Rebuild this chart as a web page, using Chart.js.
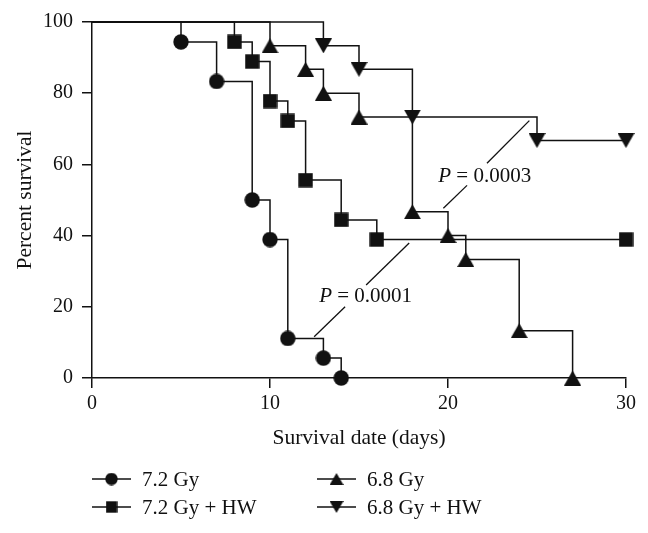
<!DOCTYPE html>
<html>
<head>
<meta charset="utf-8">
<script src="https://cdn.jsdelivr.net/npm/chart.js"></script>
<style>
  html, body { margin: 0; padding: 0; background: #fff; }
  canvas { display: block; }
</style>
</head>
<body>
<canvas id="survival" width="648" height="533"></canvas>
<script>
// -----------------------------
// Data (days, percent survival)
// -----------------------------
const seriesNames = ["7.2 Gy", "7.2 Gy + HW", "6.8 Gy", "6.8 Gy + HW"];

const days72 = [0, 5, 7, 9, 10, 11, 13, 14];
const surv72 = [100, 94.4, 83.3, 50, 38.9, 11.1, 5.6, 0];

const days72hw = [0, 8, 9, 10, 11, 12, 14, 16, 30];
const surv72hw = [100, 94.4, 88.9, 77.8, 72.2, 55.6, 44.4, 38.9, 38.9];

const days68 = [0, 10, 12, 13, 15, 18, 20, 21, 24, 27];
const surv68 = [100, 93.3, 86.7, 80, 73.3, 46.7, 40, 33.3, 13.3, 0];

const days68hw = [0, 13, 15, 18, 25, 30];
const surv68hw = [100, 93.3, 86.7, 73.3, 66.7, 66.7];

const xTicks = [0, 10, 20, 30];
const yTicks = [0, 20, 40, 60, 80, 100];

// P value notes: text anchor + two leader lines, in data units
const pLabels = ["0.0001", "0.0003"];
const pTextPos = [[12.76, 22.8], [19.45, 56.7]];
const pLines = [
    [[12.48, 11.6, 14.22, 20.0], [15.40, 26.1, 17.82, 37.9]],
    [[21.07, 54.1, 19.74, 47.7], [22.19, 60.3, 24.57, 72.3]]
];

const INK = "#111";
const FONT = "'Liberation Serif', 'Times New Roman', serif";

// -----------------------------
// Marker bitmaps
// -----------------------------
function makeMarker(kind, scale) {
    const s = scale || 1;
    const w = Math.round((kind === "circle" ? 16 : kind === "square" ? 15 : 17) * s);
    const h = Math.round((kind === "circle" ? 16 : 15) * s);
    const c = document.createElement("canvas");
    c.width = w;
    c.height = h;
    const g = c.getContext("2d");
    g.fillStyle = INK;
    g.beginPath();
    if (kind === "circle") {
        g.arc(w / 2, h / 2, w / 2 - 0.3, 0, Math.PI * 2);
    } else if (kind === "square") {
        g.rect(0.3, 0.3, w - 0.6, h - 0.6);
    } else if (kind === "up") {
        g.moveTo(w / 2, 0);
        g.lineTo(w, h);
        g.lineTo(0, h);
    } else {
        g.moveTo(0, 0);
        g.lineTo(w, 0);
        g.lineTo(w / 2, h);
    }
    g.closePath();
    g.fill();
    return c;
}

const markerKinds = ["circle", "square", "up", "down"];
const markers = markerKinds.map(k => makeMarker(k, 1));
const legendMarkers = markerKinds.map(k => makeMarker(k, 0.8));

function toPoints(xs, ys) {
    return xs.map((x, i) => ({ x: x, y: ys[i] }));
}

const allDays = [days72, days72hw, days68, days68hw];
const allSurv = [surv72, surv72hw, surv68, surv68hw];

const datasets = seriesNames.map((name, i) => ({
    label: name,
    data: toPoints(allDays[i], allSurv[i]),
    stepped: true,
    borderColor: INK,
    borderWidth: 1.5,
    fill: false,
    pointStyle: markers[i],
    pointRadius: ctx => (ctx.dataIndex === 0 ? 0 : 7),
    pointHoverRadius: ctx => (ctx.dataIndex === 0 ? 0 : 7),
    clip: false
}));

// -----------------------------
// Legend + P value notes
// -----------------------------
const extrasPlugin = {
    id: "extras",
    afterDraw(chart) {
        const ctx = chart.ctx;
        const xs = chart.scales.x;
        const ys = chart.scales.y;
        ctx.save();
        ctx.strokeStyle = INK;
        ctx.fillStyle = INK;
        ctx.lineWidth = 1.3;

        // P values
        pLabels.forEach((p, i) => {
            pLines[i].forEach(seg => {
                ctx.beginPath();
                ctx.moveTo(xs.getPixelForValue(seg[0]), ys.getPixelForValue(seg[1]));
                ctx.lineTo(xs.getPixelForValue(seg[2]), ys.getPixelForValue(seg[3]));
                ctx.stroke();
            });
            const tx = xs.getPixelForValue(pTextPos[i][0]);
            const ty = ys.getPixelForValue(pTextPos[i][1]);
            ctx.textBaseline = "middle";
            ctx.textAlign = "left";
            ctx.font = "italic 21px " + FONT;
            ctx.fillText("P", tx, ty);
            const pw = ctx.measureText("P").width;
            ctx.font = "21px " + FONT;
            ctx.fillText(" = " + p, tx + pw, ty);
        });

        // legend, two columns
        const colX = [92, 317];
        const rowY = [479, 507];
        ctx.lineWidth = 1.5;
        seriesNames.forEach((name, i) => {
            const x0 = colX[Math.floor(i / 2)];
            const y0 = rowY[i % 2];
            ctx.beginPath();
            ctx.moveTo(x0, y0);
            ctx.lineTo(x0 + 39, y0);
            ctx.stroke();
            const m = legendMarkers[i];
            ctx.drawImage(m, x0 + 19.5 - m.width / 2, y0 - m.height / 2);
            ctx.font = "21px " + FONT;
            ctx.textBaseline = "middle";
            ctx.fillText(name, x0 + 50, y0 + 1);
        });
        ctx.restore();
    }
};

new Chart(document.getElementById("survival"), {
    type: "line",
    data: { datasets: datasets },
    plugins: [extrasPlugin],
    options: {
        responsive: false,
        animation: false,
        events: [],
        layout: { padding: { top: 22, right: 22, bottom: 80, left: 0 } },
        plugins: {
            legend: { display: false },
            tooltip: { enabled: false }
        },
        scales: {
            x: {
                type: "linear",
                min: 0,
                max: 30,
                afterFit: s => { s.height = 75; },
                afterBuildTicks: s => { s.ticks = xTicks.map(v => ({ value: v })); },
                border: { color: INK, width: 1.5 },
                grid: { drawOnChartArea: false, drawTicks: true, tickLength: 10, color: INK, lineWidth: 1.5 },
                ticks: { color: INK, padding: 4, font: { family: FONT, size: 20 }, maxRotation: 0 },
                title: {
                    display: true,
                    text: "Survival date (days)",
                    color: INK,
                    font: { family: FONT, size: 21.5 },
                    padding: { top: 0, bottom: 2 }
                }
            },
            y: {
                type: "linear",
                min: 0,
                max: 100,
                afterFit: s => { s.width = 92; },
                afterBuildTicks: s => { s.ticks = yTicks.map(v => ({ value: v })); },
                border: { color: INK, width: 1.5 },
                grid: { drawOnChartArea: false, drawTicks: true, tickLength: 10, color: INK, lineWidth: 1.5 },
                ticks: { color: INK, padding: 9, font: { family: FONT, size: 20 } },
                title: {
                    display: true,
                    text: "Percent survival",
                    color: INK,
                    font: { family: FONT, size: 21.5 },
                    padding: { top: 12, bottom: 0 }
                }
            }
        }
    }
});
</script>
</body>
</html>
